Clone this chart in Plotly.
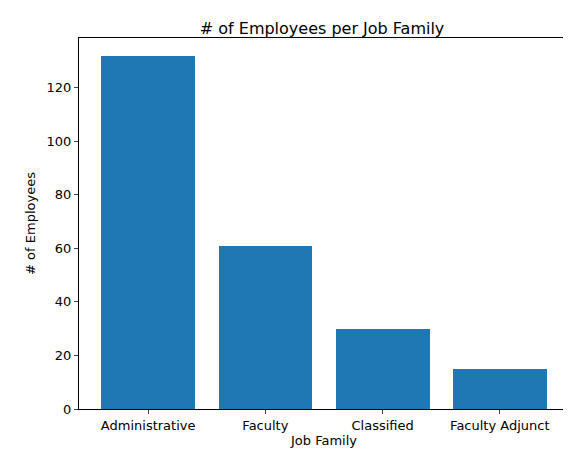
import plotly.graph_objects as go

categories = ["Administrative", "Faculty", "Classified", "Faculty Adjunct"]
values = [132, 61, 30, 15]

fig = go.Figure(go.Bar(x=list(range(len(categories))), y=values, width=0.8,
                       marker=dict(color="#1f77b4", line=dict(width=0))))
fig.update_layout(
    width=571, height=455, paper_bgcolor="white", plot_bgcolor="white",
    margin=dict(l=71, r=10, t=30, b=54, autoexpand=False),
    font=dict(family="DejaVu Sans", size=13, color="black"),
    title=dict(text="# of Employees per Job Family", x=0.55, xanchor="center", y=0.955, yanchor="middle",
               font=dict(size=16)),
    showlegend=False, bargap=0,
)
fig.update_xaxes(range=[-0.59, 3.59], tickvals=list(range(len(categories))), ticktext=categories,
                 showline=True, mirror=True, linecolor="black", ticks="outside", ticklen=4,
                 tickfont=dict(size=13), automargin=False,
                 showgrid=False, zeroline=False, title=dict(text="Job Family", standoff=4, font=dict(size=13)))
fig.update_yaxes(range=[0, 138.6], tickvals=[0, 20, 40, 60, 80, 100, 120],
                 showline=True, mirror=True, linecolor="black", ticks="outside", ticklen=4,
                 tickfont=dict(size=13), automargin=False,
                 showgrid=False, zeroline=False, title=dict(text="# of Employees", standoff=8, font=dict(size=13)))
fig.write_html("out.html")
